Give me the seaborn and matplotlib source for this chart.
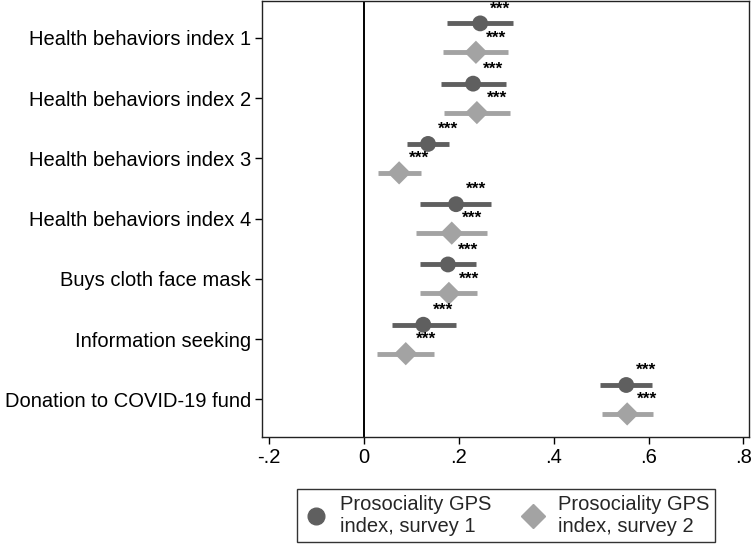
import numpy as np
import pandas as pd
import matplotlib
matplotlib.use("Agg")
import matplotlib.pyplot as plt
import seaborn as sb
from matplotlib.lines import Line2D

# Coefficient estimates and 95% CIs
categories = ['Health behaviors index 1', 'Health behaviors index 2',
              'Health behaviors index 3', 'Health behaviors index 4',
              'Buys cloth face mask', 'Information seeking',
              'Donation to COVID-19 fund']
est1 = [0.245, 0.230, 0.135, 0.194, 0.177, 0.125, 0.553]
lo1 = [0.175, 0.163, 0.090, 0.119, 0.118, 0.058, 0.498]
hi1 = [0.314, 0.300, 0.179, 0.268, 0.236, 0.194, 0.608]
est2 = [0.236, 0.238, 0.074, 0.185, 0.179, 0.088, 0.555]
lo2 = [0.166, 0.169, 0.029, 0.110, 0.118, 0.027, 0.502]
hi2 = [0.304, 0.307, 0.120, 0.260, 0.238, 0.148, 0.609]
stars1 = ['***'] * 7
stars2 = ['***'] * 7
series_names = ['Prosociality GPS\nindex, survey 1', 'Prosociality GPS\nindex, survey 2']
xticks = [-0.2, 0, 0.2, 0.4, 0.6, 0.8]
xticklabels = ['-.2', '0', '.2', '.4', '.6', '.8']

dark = '#5f5f5f'
light = '#a3a3a3'

sb.set_style('white')
plt.rcParams['font.family'] = ['Liberation Sans', 'DejaVu Sans']

pos = np.arange(len(categories))
off = 0.24
df = pd.DataFrame({
    'est': est1 + est2,
    'lo': lo1 + lo2,
    'hi': hi1 + hi2,
    'y': list(pos - off) + list(pos + off),
    'series': [series_names[0]] * 7 + [series_names[1]] * 7,
    'stars': stars1 + stars2,
})

fig = plt.figure(figsize=(7.51, 5.44), dpi=100)
ax = fig.add_axes([0.349, 0.197, 0.649, 0.801])

ax.axvline(0, color='black', lw=1.4, zorder=1)

# confidence intervals
for s, col in zip(series_names, [dark, light]):
    d = df[df.series == s]
    ax.hlines(d.y, d.lo, d.hi, color=col, lw=3.5, zorder=2)

sb.scatterplot(data=df, x='est', y='y', hue='series', style='series', size='series',
               palette=[dark, light], markers=['o', 'D'],
               sizes={series_names[0]: 130, series_names[1]: 140},
               edgecolor='none', legend=False, ax=ax, zorder=3)

for _, r in df.iterrows():
    ax.annotate(r.stars, (r.est, r.y), xytext=(7, 5), textcoords='offset points',
                fontsize=12.5, fontweight='bold', color='black', va='bottom', ha='left')

ax.set_xlim(-0.215, 0.813)
ax.set_ylim(len(categories) - 1 + 0.62, -0.61)
ax.set_xticks(xticks)
ax.set_xticklabels(xticklabels)
ax.set_yticks(pos)
ax.set_yticklabels(categories)
ax.set_xlabel('')
ax.set_ylabel('')
ax.tick_params(axis='both', direction='out', length=5, width=1, labelsize=14.5,
               color='black', labelcolor='black', bottom=True, left=True, pad=3)
for sp in ax.spines.values():
    sp.set_color('#222222')
    sp.set_linewidth(1)

handles = [Line2D([], [], marker='o', ls='none', color=dark, markersize=12),
           Line2D([], [], marker='D', ls='none', color=light, markersize=12)]
leg = fig.legend(handles, series_names, loc='lower center', bbox_to_anchor=(0.674, 0.0),
                 ncol=2, fontsize=14.5, frameon=True, fancybox=False, edgecolor='black',
                 handletextpad=0.6, columnspacing=1.5, borderpad=0.3, handlelength=1.2,
                 labelspacing=0.1, borderaxespad=0.1)
leg.get_frame().set_linewidth(1)

plt.savefig('out.png', dpi=100)
